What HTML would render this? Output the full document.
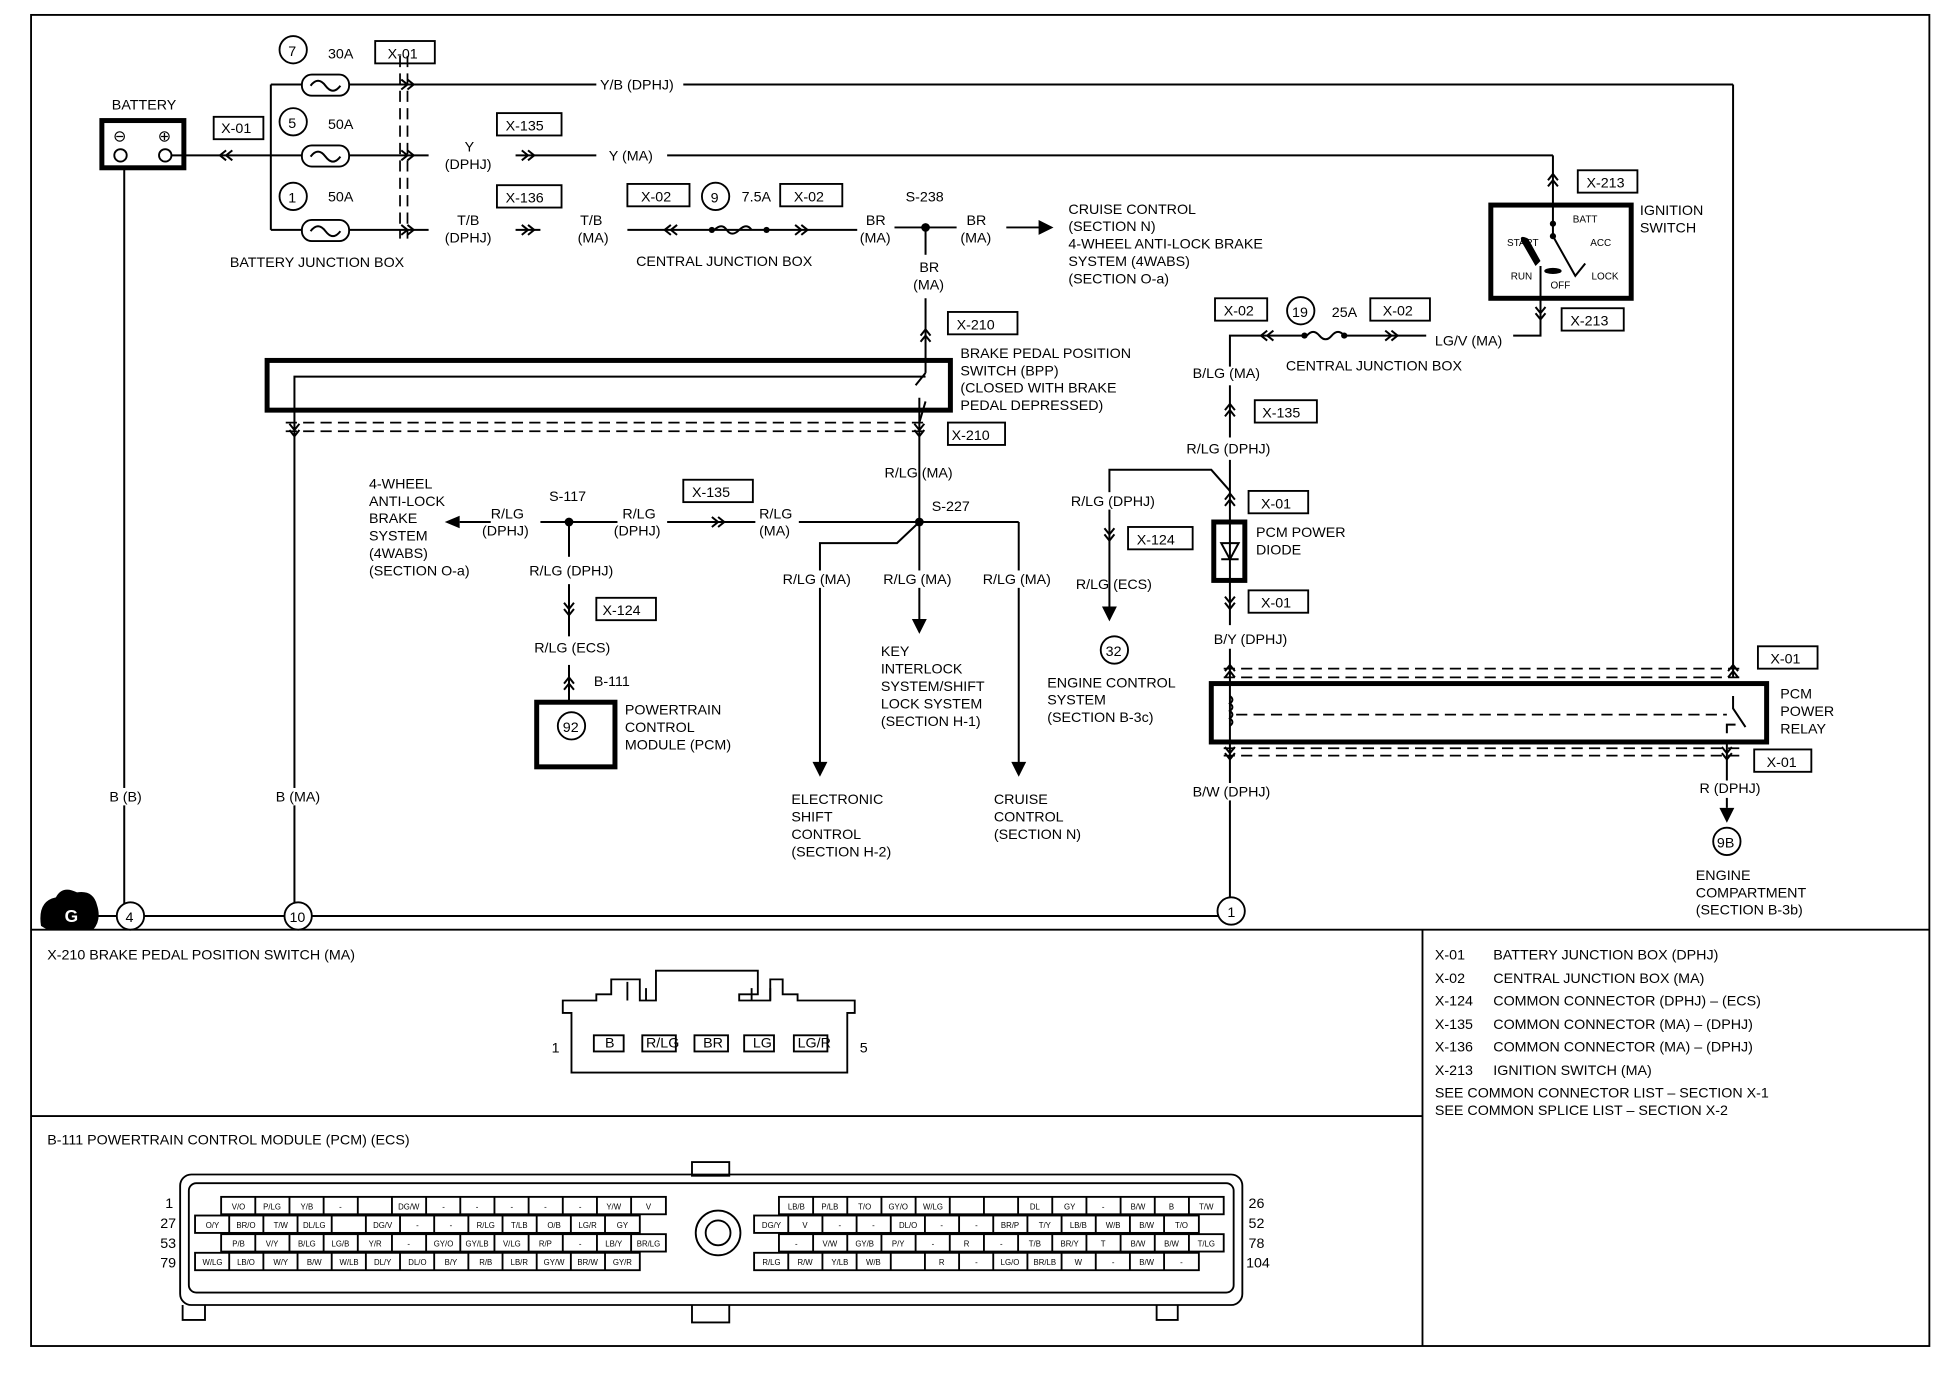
<!DOCTYPE html>
<html><head><meta charset="utf-8"><style>
html,body{margin:0;padding:0;background:#fff}
svg{display:block}
text{font-family:"Liberation Sans",Arial,sans-serif;font-size:11.5px;fill:#000}
.s{font-size:7px}
.b{fill:none;stroke:#000;stroke-width:1.5}
.t{fill:none;stroke:#000;stroke-width:4}
.w{fill:none;stroke:#000;stroke-width:1.6}
.d{fill:none;stroke:#000;stroke-width:1.4;stroke-dasharray:9 5}
.c{fill:#fff;stroke:#000;stroke-width:1.5}
.m text{text-anchor:middle;font-size:6.3px}
</style></head><body>
<svg width="1948" height="1392" viewBox="0 0 1568 1120" preserveAspectRatio="none" xmlns="http://www.w3.org/2000/svg">
<defs>
<g id="dr"><path d="M-5,-4 L0,0 L-5,4 M0,-4 L5,0 L0,4" class="w"/></g>
<g id="dl"><path d="M5,-4 L0,0 L5,4 M0,-4 L-5,0 L0,4" class="w"/></g>
<g id="du"><path d="M-4,5 L0,0 L4,5 M-4,0 L0,-5 L4,0" class="w"/></g>
<g id="dd"><path d="M-4,-5 L0,0 L4,-5 M-4,0 L0,5 L4,0" class="w"/></g>
</defs>
<rect x="25" y="12" width="1528" height="1071" class="b"/>
<line x1="25" y1="748" x2="1553" y2="748" class="b"/>
<line x1="1145" y1="748" x2="1145" y2="1083" class="b"/>
<line x1="25" y1="898" x2="1145" y2="898" class="b"/>

<!-- battery -->
<text x="90" y="88">BATTERY</text>
<rect x="82" y="97" width="66" height="38" class="t"/>
<text x="91" y="114" style="font-size:13px">⊖</text><text x="127" y="114" style="font-size:13px">⊕</text>
<circle cx="97" cy="125" r="5" class="c"/><circle cx="133" cy="125" r="5" class="c"/>
<line x1="100" y1="135" x2="100" y2="737" class="w"/>
<line x1="138" y1="125" x2="218" y2="125" class="w"/>
<use href="#dl" x="182" y="125"/>
<rect x="172" y="94" width="40" height="18" class="b"/><text x="178" y="107">X-01</text>
<line x1="218" y1="68" x2="218" y2="185" class="w"/>
<g>
<line x1="218" y1="68" x2="1395" y2="68" class="w"/>
<line x1="218" y1="125" x2="345" y2="125" class="w"/>
<line x1="218" y1="185" x2="345" y2="185" class="w"/>
<rect x="243" y="60" width="38" height="17" rx="8" class="c" stroke-width="3"/>
<rect x="243" y="117" width="38" height="17" rx="8" class="c" stroke-width="3"/>
<rect x="243" y="177" width="38" height="17" rx="8" class="c" stroke-width="3"/>
<path d="M250,69 q6,-8 12,0 t12,0 M250,126 q6,-8 12,0 t12,0 M250,186 q6,-8 12,0 t12,0" class="w"/>
<circle cx="236" cy="40" r="11" class="c"/><text x="232" y="45">7</text>
<circle cx="236" cy="98" r="11" class="c"/><text x="232" y="103">5</text>
<circle cx="236" cy="158" r="11" class="c"/><text x="232" y="163">1</text>
<text x="264" y="47">30A</text><text x="264" y="104">50A</text><text x="264" y="162">50A</text>
</g>
<line x1="322" y1="45" x2="322" y2="192" class="d"/><line x1="328" y1="45" x2="328" y2="192" class="d"/>
<use href="#dr" x="328" y="68"/><use href="#dr" x="328" y="125"/><use href="#dr" x="328" y="185"/>
<rect x="302" y="33" width="48" height="18" class="b"/><text x="312" y="47">X-01</text>
<text x="185" y="215">BATTERY JUNCTION BOX</text>
<rect x="480" y="60" width="70" height="14" fill="#fff"/><text x="483" y="72">Y/B (DPHJ)</text>
<line x1="1395" y1="68" x2="1395" y2="545" class="w"/>
<text x="374" y="122">Y</text><text x="358" y="136">(DPHJ)</text>
<use href="#dr" x="425" y="125"/>
<line x1="415" y1="125" x2="480" y2="125" class="w"/>
<text x="490" y="129">Y (MA)</text>
<line x1="537" y1="125" x2="1250" y2="125" class="w"/>
<line x1="1250" y1="125" x2="1250" y2="165" class="w"/>
<use href="#du" x="1250" y="145"/>
<rect x="400" y="91" width="52" height="18" class="b"/><text x="407" y="105">X-135</text>
<text x="368" y="181">T/B</text><text x="358" y="195">(DPHJ)</text>
<use href="#dr" x="425" y="185"/><line x1="415" y1="185" x2="435" y2="185" class="w"/>
<text x="467" y="181">T/B</text><text x="465" y="195">(MA)</text>
<rect x="400" y="149" width="52" height="18" class="b"/><text x="407" y="163">X-136</text>
<line x1="505" y1="185" x2="690" y2="185" class="w"/>
<use href="#dl" x="540" y="185"/><use href="#dr" x="645" y="185"/>
<circle cx="573" cy="185" r="2.5"/><circle cx="617" cy="185" r="2.5"/>
<path d="M575,185 q6,-6 10,0 t10,0 t10,0" class="w" fill="#fff"/>
<rect x="505" y="148" width="50" height="18" class="b"/><text x="516" y="162">X-02</text>
<rect x="628" y="148" width="50" height="18" class="b"/><text x="639" y="162">X-02</text>
<circle cx="576" cy="158" r="11" class="c"/><text x="572" y="163">9</text>
<text x="597" y="162">7.5A</text>
<text x="512" y="214">CENTRAL JUNCTION BOX</text>
<text x="697" y="181">BR</text><text x="692" y="195">(MA)</text>
<line x1="720" y1="183" x2="770" y2="183" class="w"/><circle cx="745" cy="183" r="3.5"/>
<text x="729" y="162">S-238</text>
<text x="778" y="181">BR</text><text x="773" y="195">(MA)</text>
<line x1="810" y1="183" x2="838" y2="183" class="w"/><path d="M836,177 L848,183 L836,189Z"/>
<text x="860" y="172">CRUISE CONTROL</text><text x="860" y="186">(SECTION N)</text>
<text x="860" y="200">4-WHEEL ANTI-LOCK BRAKE</text><text x="860" y="214">SYSTEM (4WABS)</text><text x="860" y="228">(SECTION O-a)</text>
<line x1="745" y1="183" x2="745" y2="205" class="w"/>
<text x="740" y="219">BR</text><text x="735" y="233">(MA)</text>
<line x1="745" y1="240" x2="745" y2="300" class="w"/><use href="#du" x="745" y="270"/>
<rect x="763" y="251" width="56" height="18" class="b"/><text x="770" y="265">X-210</text>
<text x="773" y="288">BRAKE PEDAL POSITION</text><text x="773" y="302">SWITCH (BPP)</text>
<text x="773" y="316">(CLOSED WITH BRAKE</text><text x="773" y="330">PEDAL DEPRESSED)</text>
<rect x="215" y="290" width="550" height="40" class="t"/>
<path d="M237,737 L237,303 L745,303 M737,310 L745,300 M745,323 L740,340" class="w"/>
<line x1="230" y1="340" x2="745" y2="340" class="d"/><line x1="230" y1="347" x2="745" y2="347" class="d"/>
<use href="#dd" x="237" y="346"/><use href="#dd" x="740" y="346"/>
<line x1="740" y1="320" x2="740" y2="420" class="w"/>
<rect x="763" y="340" width="46" height="18" class="b"/><text x="766" y="354">X-210</text>
<text x="712" y="384">R/LG (MA)</text>
<line x1="370" y1="420" x2="820" y2="420" class="w"/>
<path d="M358,420 L370,415 L370,425Z"/>
<circle cx="740" cy="420" r="3.5"/><circle cx="458" cy="420" r="3.5"/>
<text x="750" y="411">S-227</text><text x="442" y="403">S-117</text>
<rect x="395" y="410" width="40" height="26" fill="#fff"/>
<text x="395" y="417">R/LG</text><text x="388" y="431">(DPHJ)</text>
<rect x="497" y="410" width="40" height="26" fill="#fff"/>
<text x="501" y="417">R/LG</text><text x="494" y="431">(DPHJ)</text>
<use href="#dr" x="578" y="420"/>
<rect x="608" y="410" width="35" height="26" fill="#fff"/>
<text x="611" y="417">R/LG</text><text x="611" y="431">(MA)</text>
<rect x="550" y="386" width="56" height="18" class="b"/><text x="557" y="400">X-135</text>
<text x="297" y="393">4-WHEEL</text><text x="297" y="407">ANTI-LOCK</text><text x="297" y="421">BRAKE</text>
<text x="297" y="435">SYSTEM</text><text x="297" y="449">(4WABS)</text><text x="297" y="463">(SECTION O-a)</text>
<line x1="458" y1="420" x2="458" y2="448" class="w"/>
<text x="426" y="463">R/LG (DPHJ)</text>
<line x1="458" y1="470" x2="458" y2="512" class="w"/><use href="#dd" x="458" y="490"/>
<rect x="480" y="481" width="48" height="18" class="b"/><text x="485" y="495">X-124</text>
<text x="430" y="525">R/LG (ECS)</text>
<line x1="458" y1="535" x2="458" y2="565" class="w"/><use href="#du" x="458" y="550"/>
<text x="478" y="552">B-111</text>
<rect x="432" y="565" width="63" height="52" class="t"/>
<circle cx="460" cy="584" r="11" class="c"/><text x="453" y="589">92</text>
<text x="503" y="575">POWERTRAIN</text><text x="503" y="589">CONTROL</text><text x="503" y="603">MODULE (PCM)</text>
<path d="M740,420 L722,437 L660,437 L660,615" class="w"/><path d="M654,613 L660,625 L666,613Z"/>
<line x1="740" y1="420" x2="740" y2="500" class="w"/><path d="M734,498 L740,510 L746,498Z"/>
<line x1="820" y1="420" x2="820" y2="615" class="w"/><path d="M814,613 L820,625 L826,613Z"/>
<rect x="628" y="459" width="64" height="14" fill="#fff"/><text x="630" y="470">R/LG (MA)</text>
<rect x="708" y="459" width="64" height="14" fill="#fff"/><text x="711" y="470">R/LG (MA)</text>
<rect x="788" y="459" width="64" height="14" fill="#fff"/><text x="791" y="470">R/LG (MA)</text>
<text x="709" y="528">KEY</text><text x="709" y="542">INTERLOCK</text><text x="709" y="556">SYSTEM/SHIFT</text>
<text x="709" y="570">LOCK SYSTEM</text><text x="709" y="584">(SECTION H-1)</text>
<text x="637" y="647">ELECTRONIC</text><text x="637" y="661">SHIFT</text><text x="637" y="675">CONTROL</text><text x="637" y="689">(SECTION H-2)</text>
<text x="800" y="647">CRUISE</text><text x="800" y="661">CONTROL</text><text x="800" y="675">(SECTION N)</text>
<rect x="86" y="634" width="34" height="14" fill="#fff"/><text x="88" y="645">B (B)</text>
<rect x="221" y="634" width="44" height="14" fill="#fff"/><text x="222" y="645">B (MA)</text>
<line x1="60" y1="737" x2="990" y2="737" class="w"/>
<path d="M33,745 Q30,725 45,722 Q50,712 62,718 Q75,716 78,728 Q82,740 75,748 L38,748Z"/>
<text x="52" y="742" style="fill:#fff;font-weight:bold;font-size:14px">G</text>
<circle cx="105" cy="737" r="11" class="c"/><text x="101" y="742">4</text>
<circle cx="240" cy="737" r="11" class="c"/><text x="233" y="742">10</text>
<circle cx="991" cy="733" r="11" class="c"/><text x="988" y="738">1</text>
<rect x="978" y="240" width="42" height="18" class="b"/><text x="985" y="254">X-02</text>
<circle cx="1047" cy="250" r="11" class="c"/><text x="1040" y="255">19</text>
<text x="1072" y="255">25A</text>
<rect x="1103" y="240" width="48" height="18" class="b"/><text x="1113" y="254">X-02</text>
<path d="M990,295 L990,270 L1148,270" class="w"/>
<use href="#dl" x="1020" y="270"/><use href="#dr" x="1120" y="270"/>
<rect x="1052" y="262" width="30" height="14" fill="#fff"/>
<circle cx="1050" cy="270" r="2.5"/><circle cx="1082" cy="270" r="2.5"/>
<path d="M1052,270 q5,-6 10,0 t10,0 t10,0" class="w"/>
<text x="1155" y="278">LG/V (MA)</text>
<path d="M1218,270 L1240,270 L1240,240" class="w"/>
<text x="1035" y="298">CENTRAL JUNCTION BOX</text>
<text x="960" y="304">B/LG (MA)</text>
<line x1="990" y1="310" x2="990" y2="352" class="w"/><use href="#du" x="990" y="330"/>
<rect x="1010" y="322" width="50" height="18" class="b"/><text x="1016" y="336">X-135</text>
<text x="955" y="365">R/LG (DPHJ)</text>
<line x1="990" y1="370" x2="990" y2="503" class="w"/>
<line x1="990" y1="522" x2="990" y2="595" class="w"/>
<use href="#du" x="990" y="402"/><use href="#dd" x="990" y="485"/>
<path d="M990,395 L975,378 L893,378 L893,490" class="w"/><path d="M887,488 L893,500 L899,488Z"/>
<rect x="860" y="396" width="80" height="14" fill="#fff"/><text x="862" y="407">R/LG (DPHJ)</text>
<use href="#dd" x="893" y="430"/>
<rect x="908" y="424" width="52" height="18" class="b"/><text x="915" y="438">X-124</text>
<text x="866" y="474">R/LG (ECS)</text>
<circle cx="897" cy="523" r="11" class="c"/><text x="890" y="528">32</text>
<text x="843" y="553">ENGINE CONTROL</text><text x="843" y="567">SYSTEM</text><text x="843" y="581">(SECTION B-3c)</text>
<rect x="1005" y="395" width="48" height="18" class="b"/><text x="1015" y="409">X-01</text>
<rect x="977" y="420" width="25" height="47" class="t"/>
<path d="M983,437 L997,437 L990,450Z M983,450 L997,450" class="w"/>
<text x="1011" y="432">PCM POWER</text><text x="1011" y="446">DIODE</text>
<rect x="1005" y="475" width="48" height="18" class="b"/><text x="1015" y="489">X-01</text>
<text x="977" y="518">B/Y (DPHJ)</text>
<line x1="985" y1="538" x2="1400" y2="538" class="d"/><line x1="985" y1="545" x2="1400" y2="545" class="d"/>
<use href="#du" x="990" y="540"/><use href="#du" x="1395" y="540"/>
<rect x="975" y="550" width="447" height="47" class="t"/>
<line x1="995" y1="575" x2="1390" y2="575" class="d"/>
<path d="M990,560 q4,3 0,6 q4,3 0,6 q4,3 0,6 q4,3 0,6" class="w"/>
<path d="M1395,560 L1395,570 L1405,585 M1390,590 L1390,583 L1397,583" class="w"/>
<line x1="985" y1="602" x2="1400" y2="602" class="d"/><line x1="985" y1="608" x2="1400" y2="608" class="d"/>
<use href="#dd" x="990" y="606"/><use href="#dd" x="1390" y="606"/>
<line x1="990" y1="597" x2="990" y2="722" class="w"/>
<rect x="958" y="630" width="70" height="14" fill="#fff"/><text x="960" y="641">B/W (DPHJ)</text>
<rect x="1415" y="520" width="48" height="18" class="b"/><text x="1425" y="534">X-01</text>
<text x="1433" y="562">PCM</text><text x="1433" y="576">POWER</text><text x="1433" y="590">RELAY</text>
<rect x="1412" y="603" width="46" height="18" class="b"/><text x="1422" y="617">X-01</text>
<line x1="1390" y1="597" x2="1390" y2="650" class="w"/>
<rect x="1366" y="628" width="60" height="14" fill="#fff"/><text x="1368" y="638">R (DPHJ)</text>
<path d="M1384,650 L1390,662 L1396,650Z"/>
<circle cx="1390" cy="677" r="11" class="c"/><text x="1382" y="682">9B</text>
<text x="1365" y="708">ENGINE</text><text x="1365" y="722">COMPARTMENT</text><text x="1365" y="736">(SECTION B-3b)</text>
<rect x="1270" y="137" width="48" height="18" class="b"/><text x="1277" y="151">X-213</text>
<rect x="1200" y="165" width="113" height="75" class="t"/>
<text x="1320" y="173">IGNITION</text><text x="1320" y="187">SWITCH</text>
<path d="M1250,165 L1250,190 L1268,222 L1276,212" class="w" stroke-width="2.5"/>
<circle cx="1250" cy="180" r="2.5"/><circle cx="1250" cy="190" r="2.5"/>
<path d="M1225,195 Q1222,188 1230,192 L1240,210 L1236,214Z"/>
<path d="M1240,214 L1240,270" class="w"/>
<ellipse cx="1250" cy="218" rx="7" ry="2.5"/>
<text x="1266" y="179" style="font-size:8px">BATT</text>
<text x="1213" y="198" style="font-size:8px">START</text><text x="1280" y="198" style="font-size:8px">ACC</text>
<text x="1216" y="225" style="font-size:8px">RUN</text><text x="1248" y="232" style="font-size:8px">OFF</text><text x="1281" y="225" style="font-size:8px">LOCK</text>
<use href="#dd" x="1240" y="252"/>
<rect x="1257" y="248" width="50" height="18" class="b"/><text x="1264" y="262">X-213</text>

<text x="38" y="772">X-210   BRAKE PEDAL POSITION SWITCH (MA)</text>
<path d="M460,863 L460,815 L453,815 L453,805 L480,805 L480,800 L492,800 L492,788 L515,788 L515,805 L528,805 L528,781 L610,781 L610,800 L595,800 L595,805 L620,805 L620,788 L630,788 L630,800 L642,800 L642,805 L688,805 L688,815 L682,815 L682,863 Z" class="b"/>
<path d="M505,790 L505,805 M520,795 L520,805 M605,795 L605,805 M620,795 L620,805" class="b"/>
<text x="444" y="847">1</text><text x="692" y="847">5</text>
<g class="s">
<rect x="478" y="833" width="24" height="13" class="b"/><text x="487" y="843">B</text>
<rect x="517" y="833" width="27" height="13" class="b"/><text x="520" y="843">R/LG</text>
<rect x="559" y="833" width="27" height="13" class="b"/><text x="566" y="843">BR</text>
<rect x="599" y="833" width="24" height="13" class="b"/><text x="606" y="843">LG</text>
<rect x="639" y="833" width="27" height="13" class="b"/><text x="642" y="843">LG/R</text>
</g>
<text x="1155" y="772">X-01</text><text x="1202" y="772">BATTERY JUNCTION BOX (DPHJ)</text>
<text x="1155" y="791">X-02</text><text x="1202" y="791">CENTRAL JUNCTION BOX (MA)</text>
<text x="1155" y="809">X-124</text><text x="1202" y="809">COMMON CONNECTOR (DPHJ) – (ECS)</text>
<text x="1155" y="828">X-135</text><text x="1202" y="828">COMMON  CONNECTOR (MA) – (DPHJ)</text>
<text x="1155" y="846">X-136</text><text x="1202" y="846">COMMON CONNECTOR (MA) – (DPHJ)</text>
<text x="1155" y="865">X-213</text><text x="1202" y="865">IGNITION SWITCH (MA)</text>
<text x="1155" y="883">SEE COMMON CONNECTOR LIST – SECTION X-1</text>
<text x="1155" y="897">SEE COMMON SPLICE LIST – SECTION X-2</text>
<text x="38" y="921">B-111    POWERTRAIN CONTROL MODULE (PCM) (ECS)</text>
<rect x="557" y="935" width="30" height="11" class="b"/>
<rect x="145" y="945" width="855" height="105" rx="9" class="b" stroke-width="2"/>
<rect x="152" y="952" width="841" height="88" rx="6" class="b"/>
<path d="M147,1050 L147,1062 L165,1062 L165,1050 M931,1050 L931,1062 L948,1062 L948,1050 M557,1050 L557,1064 L587,1064 L587,1050" class="b"/>
<circle cx="578" cy="992" r="18" class="b" stroke-width="3"/><circle cx="578" cy="992" r="10" class="b" stroke-width="4"/>
<g class="s">
<text x="133" y="972">1</text><text x="129" y="988">27</text><text x="129" y="1004">53</text><text x="129" y="1020">79</text>
<text x="1005" y="972">26</text><text x="1005" y="988">52</text><text x="1005" y="1004">78</text><text x="1003" y="1020">104</text>
</g>
<g class="m">
<g transform="translate(178,963)"><rect width="358" height="14" class="b"/>
<path d="M27.5,0v14M55,0v14M82.5,0v14M110,0v14M137.5,0v14M165,0v14M192.5,0v14M220,0v14M247.5,0v14M275,0v14M302.5,0v14M330,0v14" class="b"/>
<text x="14" y="10">V/O</text><text x="41" y="10">P/LG</text><text x="69" y="10">Y/B</text><text x="96" y="10">-</text><text x="151" y="10">DG/W</text><text x="179" y="10">-</text><text x="206" y="10">-</text><text x="234" y="10">-</text><text x="261" y="10">-</text><text x="289" y="10">-</text><text x="316" y="10">Y/W</text><text x="344" y="10">V</text></g>
<g transform="translate(157,978)"><rect width="358" height="14" class="b"/>
<path d="M27.5,0v14M55,0v14M82.5,0v14M110,0v14M137.5,0v14M165,0v14M192.5,0v14M220,0v14M247.5,0v14M275,0v14M302.5,0v14M330,0v14" class="b"/>
<text x="14" y="10">O/Y</text><text x="41" y="10">BR/O</text><text x="69" y="10">T/W</text><text x="96" y="10">DL/LG</text><text x="151" y="10">DG/V</text><text x="179" y="10">-</text><text x="206" y="10">-</text><text x="234" y="10">R/LG</text><text x="261" y="10">T/LB</text><text x="289" y="10">O/B</text><text x="316" y="10">LG/R</text><text x="344" y="10">GY</text></g>
<g transform="translate(178,993)"><rect width="358" height="14" class="b"/>
<path d="M27.5,0v14M55,0v14M82.5,0v14M110,0v14M137.5,0v14M165,0v14M192.5,0v14M220,0v14M247.5,0v14M275,0v14M302.5,0v14M330,0v14" class="b"/>
<text x="14" y="10">P/B</text><text x="41" y="10">V/Y</text><text x="69" y="10">B/LG</text><text x="96" y="10">LG/B</text><text x="124" y="10">Y/R</text><text x="151" y="10">-</text><text x="179" y="10">GY/O</text><text x="206" y="10">GY/LB</text><text x="234" y="10">V/LG</text><text x="261" y="10">R/P</text><text x="289" y="10">-</text><text x="316" y="10">LB/Y</text><text x="344" y="10">BR/LG</text></g>
<g transform="translate(157,1008)"><rect width="358" height="14" class="b"/>
<path d="M27.5,0v14M55,0v14M82.5,0v14M110,0v14M137.5,0v14M165,0v14M192.5,0v14M220,0v14M247.5,0v14M275,0v14M302.5,0v14M330,0v14" class="b"/>
<text x="14" y="10">W/LG</text><text x="41" y="10">LB/O</text><text x="69" y="10">W/Y</text><text x="96" y="10">B/W</text><text x="124" y="10">W/LB</text><text x="151" y="10">DL/Y</text><text x="179" y="10">DL/O</text><text x="206" y="10">B/Y</text><text x="234" y="10">R/B</text><text x="261" y="10">LB/R</text><text x="289" y="10">GY/W</text><text x="316" y="10">BR/W</text><text x="344" y="10">GY/R</text></g>
<g transform="translate(627,963)"><rect width="358" height="14" class="b"/>
<path d="M27.5,0v14M55,0v14M82.5,0v14M110,0v14M137.5,0v14M165,0v14M192.5,0v14M220,0v14M247.5,0v14M275,0v14M302.5,0v14M330,0v14" class="b"/>
<text x="14" y="10">LB/B</text><text x="41" y="10">P/LB</text><text x="69" y="10">T/O</text><text x="96" y="10">GY/O</text><text x="124" y="10">W/LG</text><text x="206" y="10">DL</text><text x="234" y="10">GY</text><text x="261" y="10">-</text><text x="289" y="10">B/W</text><text x="316" y="10">B</text><text x="344" y="10">T/W</text></g>
<g transform="translate(607,978)"><rect width="358" height="14" class="b"/>
<path d="M27.5,0v14M55,0v14M82.5,0v14M110,0v14M137.5,0v14M165,0v14M192.5,0v14M220,0v14M247.5,0v14M275,0v14M302.5,0v14M330,0v14" class="b"/>
<text x="14" y="10">DG/Y</text><text x="41" y="10">V</text><text x="69" y="10">-</text><text x="96" y="10">-</text><text x="124" y="10">DL/O</text><text x="151" y="10">-</text><text x="179" y="10">-</text><text x="206" y="10">BR/P</text><text x="234" y="10">T/Y</text><text x="261" y="10">LB/B</text><text x="289" y="10">W/B</text><text x="316" y="10">B/W</text><text x="344" y="10">T/O</text></g>
<g transform="translate(627,993)"><rect width="358" height="14" class="b"/>
<path d="M27.5,0v14M55,0v14M82.5,0v14M110,0v14M137.5,0v14M165,0v14M192.5,0v14M220,0v14M247.5,0v14M275,0v14M302.5,0v14M330,0v14" class="b"/>
<text x="14" y="10">-</text><text x="41" y="10">V/W</text><text x="69" y="10">GY/B</text><text x="96" y="10">P/Y</text><text x="124" y="10">-</text><text x="151" y="10">R</text><text x="179" y="10">-</text><text x="206" y="10">T/B</text><text x="234" y="10">BR/Y</text><text x="261" y="10">T</text><text x="289" y="10">B/W</text><text x="316" y="10">B/W</text><text x="344" y="10">T/LG</text></g>
<g transform="translate(607,1008)"><rect width="358" height="14" class="b"/>
<path d="M27.5,0v14M55,0v14M82.5,0v14M110,0v14M137.5,0v14M165,0v14M192.5,0v14M220,0v14M247.5,0v14M275,0v14M302.5,0v14M330,0v14" class="b"/>
<text x="14" y="10">R/LG</text><text x="41" y="10">R/W</text><text x="69" y="10">Y/LB</text><text x="96" y="10">W/B</text><text x="151" y="10">R</text><text x="179" y="10">-</text><text x="206" y="10">LG/O</text><text x="234" y="10">BR/LB</text><text x="261" y="10">W</text><text x="289" y="10">-</text><text x="316" y="10">B/W</text><text x="344" y="10">-</text></g>
</g>
</svg>
</body></html>
